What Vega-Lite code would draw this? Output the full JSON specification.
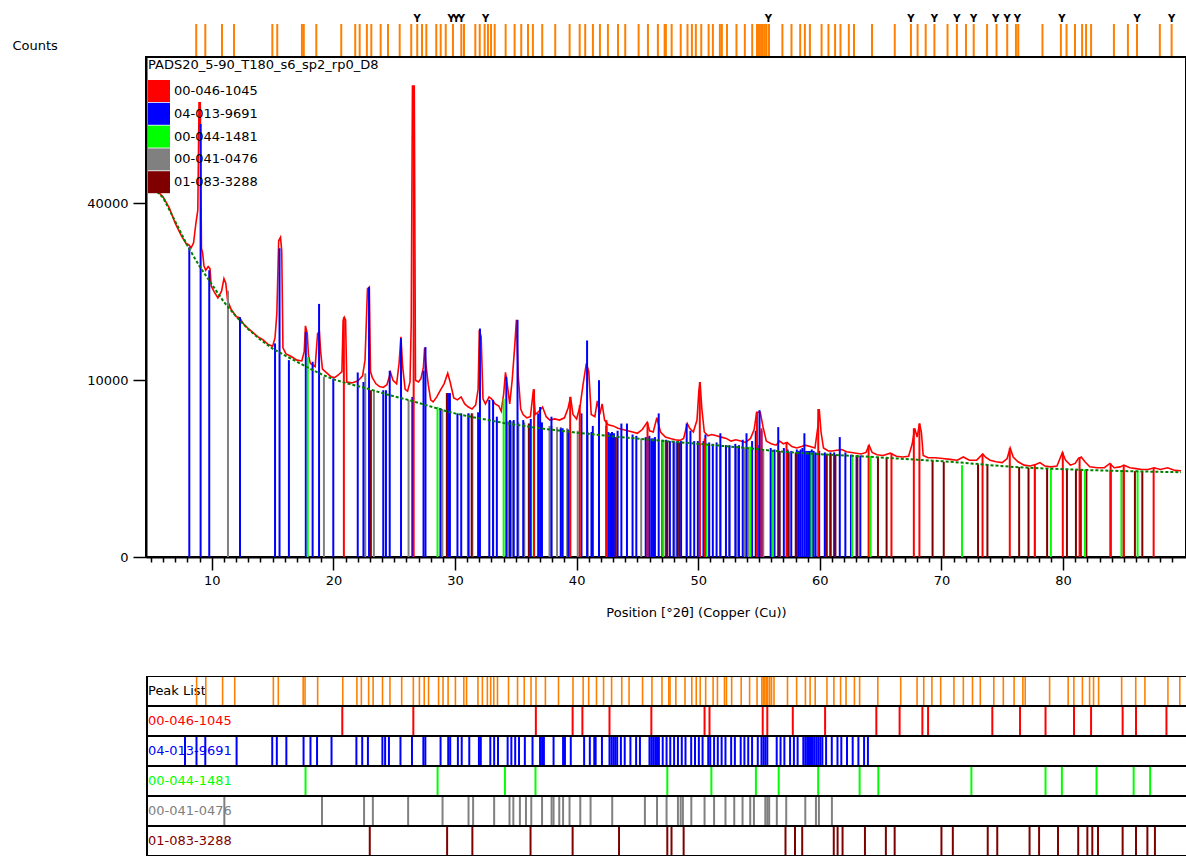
{
"$schema": "https://vega.github.io/schema/vega-lite/v6.json",
"padding": {"left": 12, "top": 7, "right": 0, "bottom": 0},
"config": {
  "font": "DejaVu Sans",
  "axis": {"labelFontSize": 13, "titleFontSize": 13, "titleFontWeight": "normal", "labelColor": "#000", "titleColor": "#000", "domainColor": "#000", "tickColor": "#000", "grid": false}
},
"datasets": {
"pattern": [
{"t":5.2,"c":43500},{"t":5.6,"c":42600},{"t":6.0,"c":41500},{"t":6.5,"c":39000},{"t":7.0,"c":35600},{"t":7.5,"c":33000},{"t":7.9,"c":31400},{"t":8.1,"c":31200},{"t":8.3,"c":30600},{"t":8.5,"c":31600},{"t":8.7,"c":35800},{"t":8.85,"c":38500},{"t":8.95,"c":66000},{"t":9.05,"c":66000},{"t":9.15,"c":30500},{"t":9.25,"c":29500},{"t":9.35,"c":27200},{"t":9.5,"c":26300},{"t":9.7,"c":27000},{"t":9.85,"c":26600},{"t":9.95,"c":23500},{"t":10.2,"c":22500},{"t":10.5,"c":21500},{"t":10.8,"c":22600},{"t":11.0,"c":24800},{"t":11.15,"c":24000},{"t":11.3,"c":21000},{"t":11.6,"c":19600},{"t":12.0,"c":18500},{"t":12.3,"c":18300},{"t":12.6,"c":17400},{"t":13.0,"c":16700},{"t":13.4,"c":16100},{"t":13.8,"c":15500},{"t":14.2,"c":15100},{"t":14.6,"c":14500},{"t":15.0,"c":14200},{"t":15.2,"c":15400},{"t":15.35,"c":19000},{"t":15.5,"c":32000},{"t":15.65,"c":32700},{"t":15.75,"c":30000},{"t":15.85,"c":14000},{"t":16.1,"c":13200},{"t":16.5,"c":12900},{"t":17.0,"c":12400},{"t":17.4,"c":12300},{"t":17.6,"c":13500},{"t":17.7,"c":17100},{"t":17.85,"c":16000},{"t":17.95,"c":13000},{"t":18.1,"c":12000},{"t":18.3,"c":11800},{"t":18.5,"c":11600},{"t":18.7,"c":16000},{"t":18.85,"c":16200},{"t":18.95,"c":13500},{"t":19.1,"c":11300},{"t":19.4,"c":10900},{"t":19.8,"c":10400},{"t":20.1,"c":10300},{"t":20.4,"c":10600},{"t":20.7,"c":11000},{"t":20.8,"c":17900},{"t":20.9,"c":18400},{"t":21.0,"c":18000},{"t":21.1,"c":9800},{"t":21.5,"c":9700},{"t":22.0,"c":9900},{"t":22.4,"c":10500},{"t":22.6,"c":12400},{"t":22.8,"c":23000},{"t":22.95,"c":23300},{"t":23.05,"c":11000},{"t":23.2,"c":10300},{"t":23.5,"c":9600},{"t":23.8,"c":9300},{"t":24.1,"c":9200},{"t":24.4,"c":9500},{"t":24.7,"c":10900},{"t":24.9,"c":10000},{"t":25.2,"c":9600},{"t":25.4,"c":12000},{"t":25.55,"c":15500},{"t":25.7,"c":11500},{"t":25.9,"c":9000},{"t":26.1,"c":8800},{"t":26.3,"c":9800},{"t":26.4,"c":17500},{"t":26.5,"c":71000},{"t":26.65,"c":71000},{"t":26.75,"c":10000},{"t":27.0,"c":9800},{"t":27.2,"c":10200},{"t":27.4,"c":11500},{"t":27.5,"c":14000},{"t":27.6,"c":12000},{"t":27.8,"c":9500},{"t":28.0,"c":7900},{"t":28.2,"c":7700},{"t":28.5,"c":8200},{"t":28.8,"c":8900},{"t":29.1,"c":9600},{"t":29.4,"c":10800},{"t":29.6,"c":9800},{"t":29.9,"c":8100},{"t":30.2,"c":7900},{"t":30.5,"c":8200},{"t":30.8,"c":7500},{"t":31.1,"c":7200},{"t":31.4,"c":7000},{"t":31.7,"c":7400},{"t":31.9,"c":9000},{"t":32.0,"c":16500},{"t":32.15,"c":15500},{"t":32.3,"c":8000},{"t":32.5,"c":7500},{"t":32.8,"c":8200},{"t":33.0,"c":8000},{"t":33.3,"c":7500},{"t":33.6,"c":7300},{"t":33.8,"c":6800},{"t":34.0,"c":8500},{"t":34.15,"c":10900},{"t":34.3,"c":9500},{"t":34.5,"c":7500},{"t":34.7,"c":10000},{"t":34.9,"c":14000},{"t":35.05,"c":18000},{"t":35.2,"c":10500},{"t":35.4,"c":7000},{"t":35.6,"c":6500},{"t":35.9,"c":6200},{"t":36.2,"c":6300},{"t":36.45,"c":9000},{"t":36.6,"c":6500},{"t":36.9,"c":6800},{"t":37.2,"c":7200},{"t":37.5,"c":6300},{"t":37.8,"c":6000},{"t":38.2,"c":6100},{"t":38.6,"c":6000},{"t":39.0,"c":6200},{"t":39.3,"c":7100},{"t":39.5,"c":8200},{"t":39.7,"c":6500},{"t":40.0,"c":6100},{"t":40.3,"c":7400},{"t":40.55,"c":9700},{"t":40.8,"c":12000},{"t":41.0,"c":11000},{"t":41.2,"c":6500},{"t":41.5,"c":6300},{"t":41.7,"c":7800},{"t":41.9,"c":6500},{"t":42.1,"c":7500},{"t":42.3,"c":6000},{"t":42.6,"c":5600},{"t":43.0,"c":5500},{"t":43.4,"c":5300},{"t":43.8,"c":5200},{"t":44.2,"c":5100},{"t":44.6,"c":5000},{"t":45.0,"c":4900},{"t":45.4,"c":5200},{"t":45.8,"c":5800},{"t":46.0,"c":5100},{"t":46.3,"c":5000},{"t":46.6,"c":6200},{"t":46.9,"c":5000},{"t":47.3,"c":4600},{"t":47.7,"c":4500},{"t":48.1,"c":4400},{"t":48.5,"c":4350},{"t":48.8,"c":4500},{"t":49.1,"c":5700},{"t":49.3,"c":5300},{"t":49.6,"c":5000},{"t":49.9,"c":6000},{"t":50.05,"c":8800},{"t":50.15,"c":9800},{"t":50.3,"c":7000},{"t":50.5,"c":5000},{"t":50.8,"c":4700},{"t":51.1,"c":4800},{"t":51.5,"c":4700},{"t":51.9,"c":4600},{"t":52.3,"c":4500},{"t":52.7,"c":4300},{"t":53.1,"c":4400},{"t":53.5,"c":4300},{"t":53.9,"c":4200},{"t":54.3,"c":4500},{"t":54.6,"c":5200},{"t":54.8,"c":6700},{"t":55.1,"c":6700},{"t":55.35,"c":5300},{"t":55.6,"c":4300},{"t":56.0,"c":4100},{"t":56.4,"c":4000},{"t":56.7,"c":4300},{"t":57.0,"c":4100},{"t":57.3,"c":4200},{"t":57.7,"c":3900},{"t":58.1,"c":3800},{"t":58.5,"c":3900},{"t":58.8,"c":4000},{"t":59.2,"c":3900},{"t":59.6,"c":3800},{"t":59.85,"c":5500},{"t":59.95,"c":7000},{"t":60.1,"c":5000},{"t":60.3,"c":3800},{"t":60.7,"c":3600},{"t":61.0,"c":3600},{"t":61.4,"c":3650},{"t":61.8,"c":3700},{"t":62.2,"c":3550},{"t":62.6,"c":3500},{"t":63.0,"c":3450},{"t":63.4,"c":3400},{"t":63.8,"c":3500},{"t":64.05,"c":4000},{"t":64.3,"c":3500},{"t":64.7,"c":3350},{"t":65.2,"c":3300},{"t":65.8,"c":3450},{"t":66.3,"c":3250},{"t":66.8,"c":3200},{"t":67.3,"c":3250},{"t":67.6,"c":4100},{"t":67.8,"c":5300},{"t":68.0,"c":4600},{"t":68.2,"c":5700},{"t":68.35,"c":5000},{"t":68.5,"c":3300},{"t":68.9,"c":3150},{"t":69.5,"c":3150},{"t":70.1,"c":3100},{"t":70.7,"c":3050},{"t":71.3,"c":3000},{"t":71.8,"c":3200},{"t":72.3,"c":3000},{"t":72.9,"c":3000},{"t":73.4,"c":3400},{"t":73.6,"c":3200},{"t":74.0,"c":3000},{"t":74.5,"c":2900},{"t":75.0,"c":2850},{"t":75.4,"c":3100},{"t":75.65,"c":3800},{"t":75.9,"c":3200},{"t":76.3,"c":2900},{"t":76.8,"c":2700},{"t":77.3,"c":2650},{"t":77.8,"c":2750},{"t":78.1,"c":2850},{"t":78.5,"c":2650},{"t":79.0,"c":2600},{"t":79.5,"c":2650},{"t":79.8,"c":3200},{"t":79.95,"c":3500},{"t":80.2,"c":3000},{"t":80.6,"c":2700},{"t":81.0,"c":2800},{"t":81.25,"c":3100},{"t":81.5,"c":3200},{"t":81.8,"c":2900},{"t":82.2,"c":2600},{"t":82.8,"c":2550},{"t":83.4,"c":2550},{"t":83.85,"c":2800},{"t":84.2,"c":2550},{"t":84.7,"c":2600},{"t":85.0,"c":2700},{"t":85.5,"c":2550},{"t":86.0,"c":2500},{"t":86.5,"c":2450},{"t":87.0,"c":2450},{"t":87.5,"c":2550},{"t":88.0,"c":2450},{"t":88.6,"c":2550},{"t":89.2,"c":2400},{"t":89.7,"c":2380}
],
"background": [
{"t":5.2,"c":43500},{"t":6,"c":41300},{"t":7,"c":36000},{"t":8,"c":31000},{"t":9,"c":27000},{"t":10,"c":23800},{"t":11,"c":20800},{"t":12,"c":18500},{"t":13,"c":16600},{"t":14,"c":15100},{"t":15,"c":13900},{"t":16,"c":13000},{"t":17,"c":12200},{"t":18,"c":11400},{"t":19,"c":10700},{"t":20,"c":10100},{"t":21,"c":9700},{"t":22,"c":9350},{"t":23,"c":9000},{"t":24,"c":8600},{"t":25,"c":8250},{"t":26,"c":7950},{"t":27,"c":7600},{"t":28,"c":7250},{"t":29,"c":6900},{"t":30,"c":6600},{"t":31,"c":6350},{"t":32,"c":6150},{"t":33,"c":5950},{"t":34,"c":5750},{"t":35,"c":5600},{"t":36,"c":5450},{"t":37,"c":5300},{"t":38,"c":5180},{"t":39,"c":5060},{"t":40,"c":4950},{"t":42,"c":4750},{"t":44,"c":4570},{"t":46,"c":4400},{"t":48,"c":4250},{"t":50,"c":4100},{"t":52,"c":3950},{"t":54,"c":3800},{"t":56,"c":3620},{"t":58,"c":3480},{"t":60,"c":3380},{"t":62,"c":3300},{"t":64,"c":3220},{"t":66,"c":3120},{"t":68,"c":3030},{"t":70,"c":2940},{"t":72,"c":2830},{"t":74,"c":2700},{"t":76,"c":2590},{"t":78,"c":2520},{"t":80,"c":2470},{"t":82,"c":2420},{"t":84,"c":2380},{"t":86,"c":2350},{"t":88,"c":2320},{"t":89.7,"c":2300}
],
"sticks": [
{"phase":"00-041-0476","t":11.33,"c":22700},{"phase":"00-041-0476","t":19.22,"c":10400},{"phase":"00-041-0476","t":22.62,"c":10800},{"phase":"00-041-0476","t":23.33,"c":8900},{"phase":"00-041-0476","t":26.18,"c":7900},{"phase":"00-041-0476","t":28.96,"c":7000},{"phase":"00-041-0476","t":31.06,"c":6600},{"phase":"00-041-0476","t":31.43,"c":6600},{"phase":"00-041-0476","t":33.13,"c":6200},{"phase":"00-041-0476","t":34.37,"c":5900},{"phase":"00-041-0476","t":34.68,"c":5900},{"phase":"00-041-0476","t":35.21,"c":5800},{"phase":"00-041-0476","t":35.7,"c":5800},{"phase":"00-041-0476","t":36.13,"c":5700},{"phase":"00-041-0476","t":37.0,"c":5800},{"phase":"00-041-0476","t":37.77,"c":5500},{"phase":"00-041-0476","t":37.93,"c":5500},{"phase":"00-041-0476","t":38.39,"c":5400},{"phase":"00-041-0476","t":38.7,"c":5400},{"phase":"00-041-0476","t":39.22,"c":5300},{"phase":"00-041-0476","t":40.09,"c":5100},{"phase":"00-041-0476","t":40.92,"c":5000},{"phase":"00-041-0476","t":42.67,"c":4700},{"phase":"00-041-0476","t":45.31,"c":4500},{"phase":"00-041-0476","t":46.29,"c":4400},{"phase":"00-041-0476","t":47.06,"c":4300},{"phase":"00-041-0476","t":47.98,"c":4250},{"phase":"00-041-0476","t":48.2,"c":4250},{"phase":"00-041-0476","t":48.38,"c":4200},{"phase":"00-041-0476","t":49.06,"c":4150},{"phase":"00-041-0476","t":50.13,"c":4100},{"phase":"00-041-0476","t":50.9,"c":4050},{"phase":"00-041-0476","t":51.82,"c":4000},{"phase":"00-041-0476","t":52.53,"c":3950},{"phase":"00-041-0476","t":53.2,"c":3900},{"phase":"00-041-0476","t":53.82,"c":3850},{"phase":"00-041-0476","t":54.12,"c":3800},{"phase":"00-041-0476","t":55.04,"c":3750},{"phase":"00-041-0476","t":55.2,"c":3750},{"phase":"00-041-0476","t":55.35,"c":3700},{"phase":"00-041-0476","t":55.97,"c":3650},{"phase":"00-041-0476","t":56.73,"c":3600},{"phase":"00-041-0476","t":58.27,"c":3500},{"phase":"00-041-0476","t":59.13,"c":3450},{"phase":"00-041-0476","t":59.37,"c":3450},{"phase":"00-041-0476","t":60.42,"c":3400},
{"phase":"04-013-9691","t":8.15,"c":30700},{"phase":"04-013-9691","t":9.08,"c":60000},{"phase":"04-013-9691","t":9.79,"c":26300},{"phase":"04-013-9691","t":12.32,"c":18400},{"phase":"04-013-9691","t":15.2,"c":14600},{"phase":"04-013-9691","t":15.57,"c":30500},{"phase":"04-013-9691","t":16.34,"c":12400},{"phase":"04-013-9691","t":17.73,"c":16200},{"phase":"04-013-9691","t":18.29,"c":12200},{"phase":"04-013-9691","t":18.82,"c":20500},{"phase":"04-013-9691","t":19.99,"c":10200},{"phase":"04-013-9691","t":22.0,"c":10900},{"phase":"04-013-9691","t":22.47,"c":9800},{"phase":"04-013-9691","t":22.93,"c":23300},{"phase":"04-013-9691","t":24.1,"c":8900},{"phase":"04-013-9691","t":24.32,"c":8900},{"phase":"04-013-9691","t":24.63,"c":11100},{"phase":"04-013-9691","t":25.56,"c":15300},{"phase":"04-013-9691","t":26.49,"c":8200},{"phase":"04-013-9691","t":27.41,"c":11100},{"phase":"04-013-9691","t":27.57,"c":14100},{"phase":"04-013-9691","t":28.8,"c":7100},{"phase":"04-013-9691","t":29.42,"c":8600},{"phase":"04-013-9691","t":29.58,"c":8600},{"phase":"04-013-9691","t":30.2,"c":6600},{"phase":"04-013-9691","t":30.51,"c":6600},{"phase":"04-013-9691","t":31.12,"c":6600},{"phase":"04-013-9691","t":31.9,"c":6700},{"phase":"04-013-9691","t":32.05,"c":16700},{"phase":"04-013-9691","t":32.82,"c":7900},{"phase":"04-013-9691","t":33.13,"c":7900},{"phase":"04-013-9691","t":33.44,"c":6300},{"phase":"04-013-9691","t":34.22,"c":10400},{"phase":"04-013-9691","t":34.52,"c":6000},{"phase":"04-013-9691","t":34.83,"c":6000},{"phase":"04-013-9691","t":35.14,"c":18000},{"phase":"04-013-9691","t":35.61,"c":6000},{"phase":"04-013-9691","t":36.23,"c":6100},{"phase":"04-013-9691","t":36.84,"c":6600},{"phase":"04-013-9691","t":37.0,"c":7200},{"phase":"04-013-9691","t":37.15,"c":5800},{"phase":"04-013-9691","t":37.93,"c":6300},{"phase":"04-013-9691","t":38.7,"c":5300},{"phase":"04-013-9691","t":38.85,"c":5300},{"phase":"04-013-9691","t":39.32,"c":5200},{"phase":"04-013-9691","t":40.4,"c":6600},{"phase":"04-013-9691","t":40.86,"c":15000},{"phase":"04-013-9691","t":41.22,"c":5000},{"phase":"04-013-9691","t":41.33,"c":5500},{"phase":"04-013-9691","t":41.84,"c":10000},{"phase":"04-013-9691","t":42.45,"c":5500},{"phase":"04-013-9691","t":42.61,"c":5000},{"phase":"04-013-9691","t":42.76,"c":4900},{"phase":"04-013-9691","t":42.91,"c":5000},{"phase":"04-013-9691","t":43.07,"c":4900},{"phase":"04-013-9691","t":43.37,"c":5100},{"phase":"04-013-9691","t":43.68,"c":5700},{"phase":"04-013-9691","t":44.14,"c":5700},{"phase":"04-013-9691","t":44.6,"c":4800},{"phase":"04-013-9691","t":44.91,"c":4700},{"phase":"04-013-9691","t":45.68,"c":4600},{"phase":"04-013-9691","t":45.83,"c":4600},{"phase":"04-013-9691","t":45.98,"c":4700},{"phase":"04-013-9691","t":46.14,"c":4500},{"phase":"04-013-9691","t":46.29,"c":4500},{"phase":"04-013-9691","t":46.44,"c":4600},{"phase":"04-013-9691","t":46.75,"c":6600},{"phase":"04-013-9691","t":47.06,"c":4400},{"phase":"04-013-9691","t":47.36,"c":4400},{"phase":"04-013-9691","t":47.67,"c":4300},{"phase":"04-013-9691","t":47.98,"c":4300},{"phase":"04-013-9691","t":48.29,"c":4300},{"phase":"04-013-9691","t":48.59,"c":4300},{"phase":"04-013-9691","t":49.05,"c":5700},{"phase":"04-013-9691","t":49.36,"c":5100},{"phase":"04-013-9691","t":49.67,"c":4300},{"phase":"04-013-9691","t":49.97,"c":4300},{"phase":"04-013-9691","t":50.43,"c":4300},{"phase":"04-013-9691","t":50.59,"c":4800},{"phase":"04-013-9691","t":50.9,"c":4200},{"phase":"04-013-9691","t":51.2,"c":4100},{"phase":"04-013-9691","t":51.51,"c":4200},{"phase":"04-013-9691","t":51.82,"c":4900},{"phase":"04-013-9691","t":52.28,"c":4000},{"phase":"04-013-9691","t":52.58,"c":4000},{"phase":"04-013-9691","t":53.05,"c":4100},{"phase":"04-013-9691","t":53.35,"c":4000},{"phase":"04-013-9691","t":53.66,"c":4400},{"phase":"04-013-9691","t":53.97,"c":4900},{"phase":"04-013-9691","t":54.43,"c":4300},{"phase":"04-013-9691","t":54.73,"c":5100},{"phase":"04-013-9691","t":54.89,"c":4000},{"phase":"04-013-9691","t":55.04,"c":6900},{"phase":"04-013-9691","t":55.2,"c":5100},{"phase":"04-013-9691","t":55.96,"c":3800},{"phase":"04-013-9691","t":56.27,"c":3700},{"phase":"04-013-9691","t":56.58,"c":5400},{"phase":"04-013-9691","t":57.04,"c":3800},{"phase":"04-013-9691","t":57.35,"c":3700},{"phase":"04-013-9691","t":57.65,"c":3600},{"phase":"04-013-9691","t":58.11,"c":3700},{"phase":"04-013-9691","t":58.27,"c":3600},{"phase":"04-013-9691","t":58.42,"c":3700},{"phase":"04-013-9691","t":58.57,"c":3800},{"phase":"04-013-9691","t":58.73,"c":4900},{"phase":"04-013-9691","t":58.88,"c":3600},{"phase":"04-013-9691","t":59.03,"c":3600},{"phase":"04-013-9691","t":59.19,"c":3600},{"phase":"04-013-9691","t":59.34,"c":3700},{"phase":"04-013-9691","t":59.49,"c":3600},{"phase":"04-013-9691","t":59.65,"c":3500},{"phase":"04-013-9691","t":59.95,"c":3600},{"phase":"04-013-9691","t":60.41,"c":3500},{"phase":"04-013-9691","t":60.87,"c":3500},{"phase":"04-013-9691","t":61.18,"c":3500},{"phase":"04-013-9691","t":61.64,"c":4600},{"phase":"04-013-9691","t":62.1,"c":3500},{"phase":"04-013-9691","t":62.56,"c":3350},{"phase":"04-013-9691","t":63.02,"c":3300},{"phase":"04-013-9691","t":63.33,"c":3300},
{"phase":"01-083-3288","t":23.08,"c":8900},{"phase":"01-083-3288","t":29.33,"c":8600},{"phase":"01-083-3288","t":31.37,"c":6600},{"phase":"01-083-3288","t":36.07,"c":5700},{"phase":"01-083-3288","t":39.47,"c":5000},{"phase":"01-083-3288","t":43.22,"c":4600},{"phase":"01-083-3288","t":47.12,"c":4300},{"phase":"01-083-3288","t":47.46,"c":4300},{"phase":"01-083-3288","t":48.44,"c":4200},{"phase":"01-083-3288","t":56.67,"c":3600},{"phase":"01-083-3288","t":57.44,"c":3550},{"phase":"01-083-3288","t":58.02,"c":3500},{"phase":"01-083-3288","t":60.57,"c":3400},{"phase":"01-083-3288","t":60.88,"c":3400},{"phase":"01-083-3288","t":61.28,"c":3350},{"phase":"01-083-3288","t":63.09,"c":3300},{"phase":"01-083-3288","t":64.78,"c":3200},{"phase":"01-083-3288","t":65.49,"c":3150},{"phase":"01-083-3288","t":69.27,"c":2950},{"phase":"01-083-3288","t":70.19,"c":2900},{"phase":"01-083-3288","t":73.01,"c":2750},{"phase":"01-083-3288","t":73.78,"c":2700},{"phase":"01-083-3288","t":76.39,"c":2590},{"phase":"01-083-3288","t":77.16,"c":2560},{"phase":"01-083-3288","t":78.69,"c":2520},{"phase":"01-083-3288","t":80.32,"c":2480},{"phase":"01-083-3288","t":81.06,"c":2450},{"phase":"01-083-3288","t":81.46,"c":2450},{"phase":"01-083-3288","t":81.92,"c":2430},{"phase":"01-083-3288","t":83.91,"c":2400},{"phase":"01-083-3288","t":84.99,"c":2380},{"phase":"01-083-3288","t":85.91,"c":2360},{"phase":"01-083-3288","t":86.52,"c":2350},
{"phase":"00-044-1481","t":17.89,"c":12800},{"phase":"00-044-1481","t":28.56,"c":7200},{"phase":"00-044-1481","t":34.0,"c":8000},{"phase":"00-044-1481","t":36.47,"c":5400},{"phase":"00-044-1481","t":47.12,"c":4300},{"phase":"00-044-1481","t":50.68,"c":4100},{"phase":"00-044-1481","t":54.28,"c":3900},{"phase":"00-044-1481","t":56.12,"c":3600},{"phase":"00-044-1481","t":59.31,"c":3500},{"phase":"00-044-1481","t":62.66,"c":3350},{"phase":"00-044-1481","t":64.17,"c":3250},{"phase":"00-044-1481","t":71.69,"c":2700},{"phase":"00-044-1481","t":77.68,"c":2550},{"phase":"00-044-1481","t":79.0,"c":2500},{"phase":"00-044-1481","t":81.8,"c":2450},{"phase":"00-044-1481","t":84.8,"c":2400},{"phase":"00-044-1481","t":86.13,"c":2380},
{"phase":"00-046-1045","t":20.86,"c":18400},{"phase":"00-046-1045","t":26.6,"c":71000},{"phase":"00-046-1045","t":36.5,"c":9000},{"phase":"00-046-1045","t":39.47,"c":8200},{"phase":"00-046-1045","t":40.26,"c":7400},{"phase":"00-046-1045","t":42.45,"c":6000},{"phase":"00-046-1045","t":45.83,"c":5800},{"phase":"00-046-1045","t":50.13,"c":9800},{"phase":"00-046-1045","t":50.53,"c":4500},{"phase":"00-046-1045","t":54.83,"c":6700},{"phase":"00-046-1045","t":55.2,"c":5300},{"phase":"00-046-1045","t":57.26,"c":4200},{"phase":"00-046-1045","t":59.87,"c":7000},{"phase":"00-046-1045","t":64.01,"c":4000},{"phase":"00-046-1045","t":65.89,"c":3450},{"phase":"00-046-1045","t":67.73,"c":5300},{"phase":"00-046-1045","t":68.19,"c":5700},{"phase":"00-046-1045","t":73.38,"c":3400},{"phase":"00-046-1045","t":75.62,"c":3800},{"phase":"00-046-1045","t":77.68,"c":2750},{"phase":"00-046-1045","t":79.98,"c":3500},{"phase":"00-046-1045","t":81.36,"c":3200},{"phase":"00-046-1045","t":83.91,"c":2800},{"phase":"00-046-1045","t":84.99,"c":2700},{"phase":"00-046-1045","t":87.45,"c":2550}
],
"peaks": [
{"t":9.09},{"t":9.83},{"t":11.19},{"t":12.17},{"t":15.29},{"t":15.69},{"t":17.7},{"t":17.85},{"t":18.87},{"t":20.9},{"t":22.04},{"t":22.4},{"t":22.99},{"t":23.35},{"t":24.11},{"t":24.71},{"t":25.66},{"t":26.6},{"t":27.09},{"t":27.48},{"t":27.83},{"t":28.64},{"t":29.0},{"t":29.41},{"t":30.0},{"t":30.68},{"t":30.9},{"t":31.82},{"t":32.18},{"t":32.58},{"t":32.85},{"t":33.1},{"t":33.4},{"t":34.29},{"t":35.02},{"t":35.56},{"t":36.11},{"t":36.51},{"t":37.27},{"t":38.33},{"t":39.5},{"t":40.32},{"t":40.77},{"t":41.4},{"t":41.97},{"t":42.62},{"t":43.44},{"t":44.03},{"t":45.12},{"t":45.88},{"t":46.69},{"t":47.24},{"t":47.34},{"t":47.81},{"t":48.55},{"t":49.1},{"t":49.46},{"t":49.78},{"t":50.22},{"t":50.82},{"t":51.17},{"t":51.74},{"t":51.9},{"t":52.32},{"t":53.09},{"t":53.77},{"t":54.37},{"t":54.76},{"t":54.88},{"t":55.0},{"t":55.12},{"t":55.24},{"t":55.4},{"t":55.54},{"t":55.74},{"t":56.83},{"t":57.57},{"t":58.28},{"t":58.66},{"t":59.07},{"t":60.02},{"t":60.58},{"t":61.12},{"t":61.56},{"t":62.24},{"t":62.66},{"t":64.13},{"t":65.98},{"t":67.3},{"t":67.84},{"t":68.5},{"t":69.21},{"t":70.28},{"t":71.04},{"t":71.78},{"t":72.41},{"t":73.5},{"t":74.27},{"t":75.14},{"t":75.85},{"t":76.04},{"t":78.01},{"t":79.51},{"t":79.97},{"t":80.66},{"t":81.24},{"t":81.56},{"t":81.97},{"t":83.83},{"t":84.97},{"t":85.71},{"t":87.57},{"t":88.53}
],
"ymarks": [
{"t":27.09},{"t":29.85},{"t":30.26},{"t":30.68},{"t":32.66},{"t":55.68},{"t":67.3},{"t":69.21},{"t":71.04},{"t":72.41},{"t":74.19},{"t":75.14},{"t":75.96},{"t":79.59},{"t":85.71},{"t":88.53}
],
"rows": [
{"row":"Peak List"},{"row":"00-046-1045"},{"row":"04-013-9691"},{"row":"00-044-1481"},{"row":"00-041-0476"},{"row":"01-083-3288"}
]
},
"bounds": "flush",
"spacing": 0,
"resolve": {"scale": {"x": "independent", "y": "independent", "color": "independent"}},
"vconcat": [
{
  "width": 1040, "height": 50,
  "view": {"stroke": null},
  "layer": [
    {"data": {"name": "peaks"},
     "mark": {"type": "rule", "color": "#FF8000", "strokeWidth": 2},
     "encoding": {
       "x": {"field": "t", "type": "quantitative", "scale": {"domain": [5, 89.7], "nice": false, "zero": false}, "axis": null},
       "y": {"datum": 0, "type": "quantitative", "scale": {"domain": [0, 1], "nice": false},
             "axis": {"title": "Counts", "titleAngle": 0, "titleAlign": "left", "titleBaseline": "middle", "titleX": -134, "titleY": 38, "labels": false, "ticks": false, "domain": false, "grid": false}},
       "y2": {"datum": 0.66}
     }},
    {"data": {"name": "ymarks"},
     "mark": {"type": "text", "text": "Y", "fontWeight": "bold", "fontSize": 10, "baseline": "middle", "color": "#000"},
     "encoding": {
       "x": {"field": "t", "type": "quantitative"},
       "y": {"datum": 0.76, "type": "quantitative"}
     }}
  ]
},
{
  "bounds": "flush",
  "spacing": 119,
  "resolve": {"scale": {"x": "independent", "y": "independent", "color": "independent"}},
  "vconcat": [
  {
    "width": 1040, "height": 500,
    "view": {"stroke": "#000", "strokeWidth": 2},
    "resolve": {"axis": {"x": "independent"}},
    "layer": [
      {"data": {"name": "pattern"},
       "mark": {"type": "line", "color": "#FF0000", "strokeWidth": 1.6, "clip": true},
       "encoding": {
         "x": {"field": "t", "type": "quantitative", "scale": {"domain": [5, 89.7], "nice": false, "zero": false},
               "axis": {"orient": "bottom", "values": [10, 20, 30, 40, 50, 60, 70, 80], "tickSize": 13, "tickWidth": 1.5, "domainWidth": 2, "labelPadding": 4, "labelFlush": false,
                        "title": "Position [°2θ] (Copper (Cu))", "titleX": 550, "titleY": 55, "titleAnchor": "start", "titleAlign": "center", "titleBaseline": "middle"}},
         "y": {"field": "c", "type": "quantitative", "scale": {"type": "sqrt", "domain": [0, 80000], "nice": false},
               "axis": {"values": [0, 10000, 40000], "format": "d", "tickSize": 13, "tickWidth": 1.5, "domainWidth": 2, "labelPadding": 5, "title": null}}
       }},
      {"data": {"name": "sticks"},
       "mark": {"type": "bar", "size": 2, "clip": true, "opacity": 1},
       "encoding": {
         "x": {"field": "t", "type": "quantitative",
               "axis": {"orient": "bottom", "values": [5,6,7,8,9,11,12,13,14,15,16,17,18,19,21,22,23,24,25,26,27,28,29,31,32,33,34,35,36,37,38,39,41,42,43,44,45,46,47,48,49,51,52,53,54,55,56,57,58,59,61,62,63,64,65,66,67,68,69,71,72,73,74,75,76,77,78,79,81,82,83,84,85,86,87,88,89],
                        "tickSize": 5, "tickWidth": 1.5, "labels": false, "domain": false, "title": null}},
         "y": {"field": "c", "type": "quantitative", "stack": null},
         "color": {"field": "phase", "type": "nominal",
                   "scale": {"domain": ["00-046-1045", "04-013-9691", "00-044-1481", "00-041-0476", "01-083-3288"], "range": ["#FF0000", "#0000FF", "#00FF00", "#808080", "#800000"]},
                   "legend": {"title": "PADS20_5-90_T180_s6_sp2_rp0_D8", "orient": "top-left", "offset": 0, "padding": 2, "symbolType": "square", "symbolSize": 484, "symbolStrokeWidth": 0, "symbolOpacity": 1, "rowPadding": 0.8, "labelFontSize": 13, "titleFontSize": 13, "titleFontWeight": "normal", "titleColor": "#000", "labelColor": "#000", "titlePadding": 8, "labelOffset": 4, "titleLimit": 500}}
       }},
      {"data": {"name": "background"},
       "mark": {"type": "line", "color": "#008000", "strokeWidth": 2, "strokeDash": [3, 2], "clip": true},
       "encoding": {
         "x": {"field": "t", "type": "quantitative", "axis": null},
         "y": {"field": "c", "type": "quantitative"}
       }}
    ]
  },
  {
    "width": 1040, "height": 180,
    "view": {"stroke": null},
    "layer": [
      {"data": {"name": "rows"},
       "mark": {"type": "rect", "fill": "#FFFFFF", "stroke": "#000", "strokeWidth": 2, "clip": true},
       "encoding": {
         "x": {"datum": 5.08, "type": "quantitative", "scale": {"domain": [5, 89.03], "nice": false, "zero": false}, "axis": null},
         "x2": {"datum": 95},
         "y": {"field": "row", "type": "nominal", "scale": {"domain": ["Peak List", "00-046-1045", "04-013-9691", "00-044-1481", "00-041-0476", "01-083-3288"], "paddingInner": 0, "paddingOuter": 0}, "axis": null}
       }},
      {"data": {"name": "rows"},
       "mark": {"type": "text", "align": "left", "baseline": "middle", "dx": 2, "fontSize": 13},
       "encoding": {
         "x": {"datum": 5, "type": "quantitative"},
         "y": {"field": "row", "type": "nominal"},
         "text": {"field": "row"},
         "color": {"field": "row", "type": "nominal",
                   "scale": {"domain": ["Peak List", "00-046-1045", "04-013-9691", "00-044-1481", "00-041-0476", "01-083-3288"], "range": ["#000000", "#FF0000", "#0000FF", "#00FF00", "#808080", "#800000"]},
                   "legend": null}
       }},
      {"data": {"name": "peaks"},
       "mark": {"type": "tick", "color": "#FF8000", "thickness": 1.6, "size": 28, "opacity": 1},
       "encoding": {
         "x": {"field": "t", "type": "quantitative"},
         "y": {"datum": "Peak List", "type": "nominal"}
       }},
      {"data": {"name": "sticks"},
       "mark": {"type": "tick", "thickness": 2, "size": 28, "opacity": 1},
       "encoding": {
         "x": {"field": "t", "type": "quantitative"},
         "y": {"field": "phase", "type": "nominal"},
         "color": {"field": "phase", "type": "nominal", "legend": null}
       }}
    ]
  }
  ]
}
]
}
